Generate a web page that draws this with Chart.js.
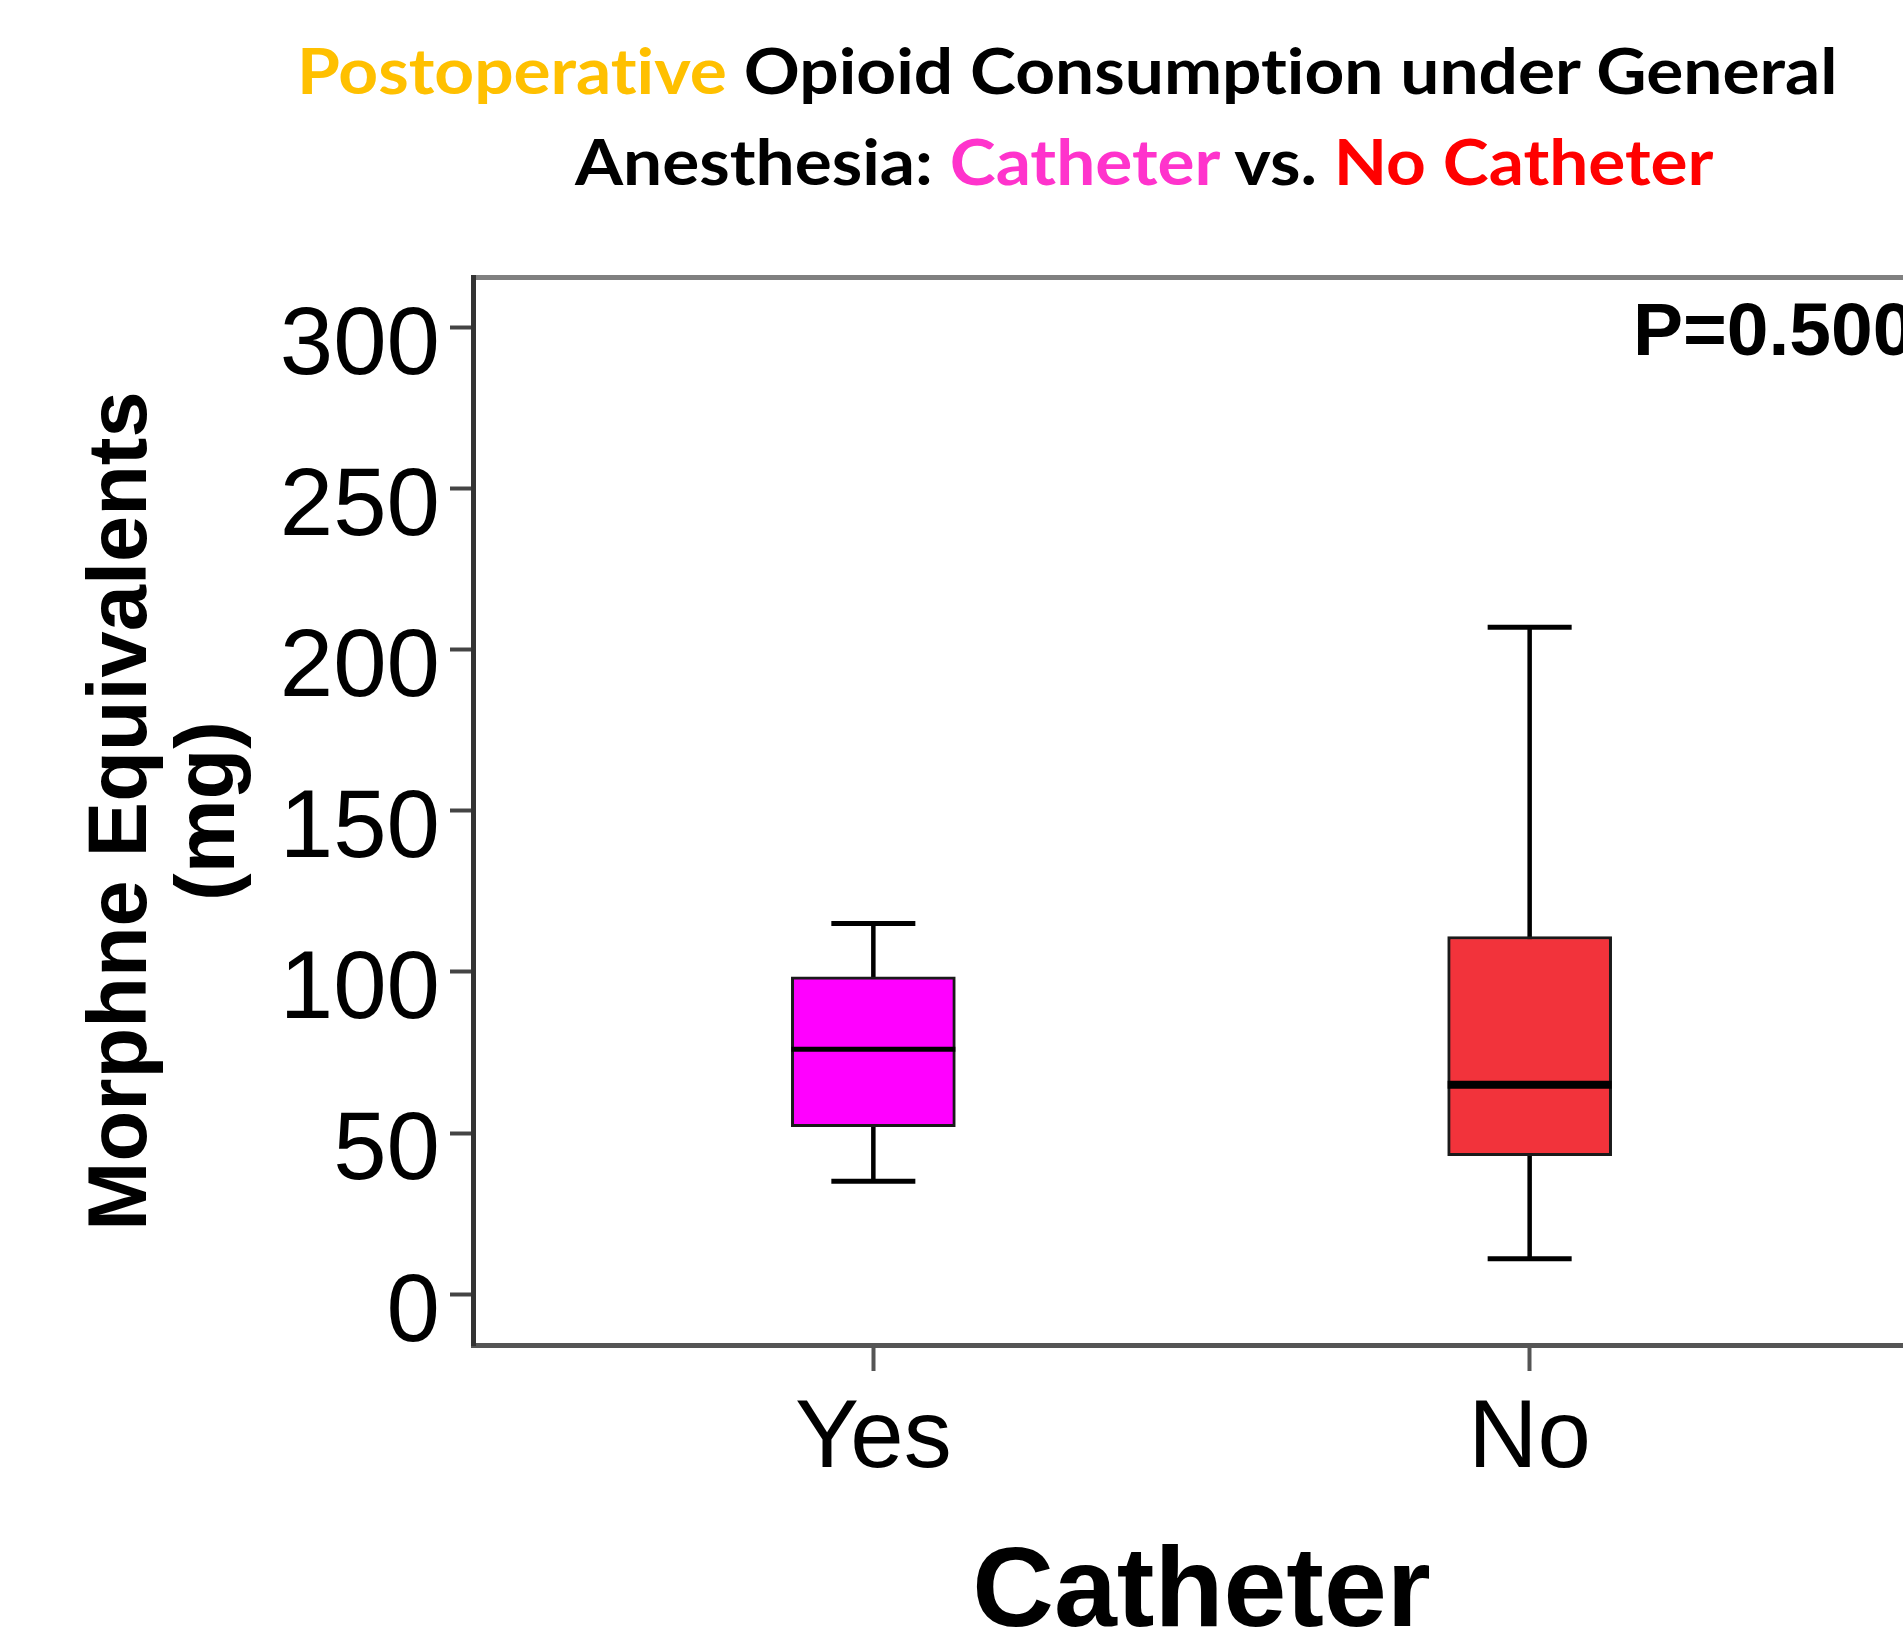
<!DOCTYPE html>
<html>
<head>
<meta charset="utf-8">
<title>Postoperative Opioid Consumption</title>
<script src="https://cdn.jsdelivr.net/npm/chart.js@4.4.1/dist/chart.umd.min.js"></script>
<style>
  html, body { margin: 0; padding: 0; background: #fff; overflow: hidden; }
  #wrap { position: relative; width: 1903px; height: 1633px; overflow: hidden; }
  #chart { position: absolute; left: 0; top: 0; }
  .title-line {
    position: absolute; white-space: nowrap; color: #000;
    font-family: Lato, 'Open Sans', sans-serif; font-weight: bold;
    font-size: 64px; line-height: 64px; transform-origin: 0 0;
    font-variant-ligatures: none;
  }
  #pValue {
    position: absolute; left: 1633px; top: 292px; white-space: nowrap;
    font-family: 'Liberation Sans', Arial, sans-serif; font-weight: bold;
    font-size: 75px; line-height: 75px; color: #000;
  }
</style>
</head>
<body>
<div id="wrap">
  <canvas id="chart" width="1930" height="1633"></canvas>
  <div class="title-line" id="title1" style="left:297px;top:38px"><span style="color:#ffc000">Postoperative</span> Opioid Consumption under General</div>
  <div class="title-line" id="title2" style="left:575px;top:129px">Anesthesia: <span style="color:#ff33cc">Catheter</span> vs. <span style="color:#ff0000">No Catheter</span></div>
  <div id="pValue">P=0.500</div>
</div>
<script>
// box plot values (mg)
const categories = ['Yes', 'No'];
const whiskerLow = [35, 11];
const quartileLow = [52, 43];
const medians = [76, 65];
const quartileHigh = [98.5, 111];
const whiskerHigh = [115, 207];
const boxColors = ['#ff00ff', '#f2333b'];
const medianWidths = [5, 8];
const yTicks = [0, 50, 100, 150, 200, 250, 300];

const family = "'Liberation Sans', Arial, sans-serif";
Chart.defaults.font.family = family;

// categories sit at 1, 2 on a linear x axis
const pos = categories.map((c, i) => i + 1);

const whiskerLines = [];
pos.forEach((x, i) => {
  whiskerLines.push({ x, y: whiskerLow[i] }, { x, y: whiskerHigh[i] }, { x: x + 0.5, y: null });
});
const caps = pos.flatMap((x, i) => [{ x, y: whiskerLow[i] }, { x, y: whiskerHigh[i] }]);
const boxes = pos.map((x, i) => ({ x, y: [quartileLow[i], quartileHigh[i]] }));
const medianPoints = pos.map((x, i) => ({ x, y: medians[i] }));

const ctx = document.getElementById('chart').getContext('2d');

new Chart(ctx, {
  type: 'bar',
  data: {
    datasets: [
      {
        type: 'line',
        data: whiskerLines,
        borderColor: '#000',
        borderWidth: 4.5,
        pointRadius: 0,
        spanGaps: false,
        order: 3,
      },
      {
        type: 'bar',
        data: boxes,
        backgroundColor: boxColors,
        borderColor: '#1a1a1a',
        borderWidth: 3,
        borderSkipped: false,
        barThickness: 164,
        order: 2,
      },
      {
        type: 'line',
        data: caps,
        showLine: false,
        pointStyle: 'line',
        pointRadius: 42,
        pointBorderWidth: 5,
        pointBorderColor: '#000',
        order: 1,
      },
      {
        type: 'line',
        data: medianPoints,
        showLine: false,
        pointStyle: 'line',
        pointRadius: 82,
        pointBorderWidth: medianWidths,
        pointBorderColor: '#000',
        order: 1,
      },
    ],
  },
  options: {
    responsive: false,
    animation: false,
    events: [],
    // big 'line' points would otherwise make chart.js shrink the plot area
    layout: { autoPadding: false, padding: { top: 277, left: 0, right: 0, bottom: 0 } },
    plugins: {
      legend: { display: false },
      tooltip: { enabled: false },
    },
    scales: {
      x: {
        type: 'linear',
        position: 'bottom',
        offset: false,
        min: 0.39,
        max: 2.61,
        afterBuildTicks: (scale) => {
          scale.ticks = pos.map((v) => ({ value: v }));
        },
        afterFit: (scale) => {
          scale.height = 288;
          scale.paddingLeft = 0;
          scale.paddingRight = 0;
        },
        ticks: {
          callback: (v) => categories[v - 1],
          font: { size: 96 },
          color: '#000',
          padding: 12,
          maxRotation: 0,
          autoSkip: false,
        },
        grid: { offset: false, drawOnChartArea: false, tickLength: 26, tickColor: '#555', tickWidth: 4 },
        border: { color: '#555', width: 5 },
        title: {
          display: true,
          text: 'Catheter',
          color: '#000',
          font: { size: 113, weight: 'bold', lineHeight: 0.67 },
          padding: 0,
        },
      },
      xTop: {
        type: 'linear',
        position: 'top',
        offset: false,
        min: 0.39,
        max: 2.61,
        afterFit: (scale) => {
          scale.height = 0;
          scale.paddingLeft = 0;
          scale.paddingRight = 0;
        },
        ticks: { display: false },
        grid: { display: false, drawTicks: false, offset: false },
        border: { display: true, color: '#808080', width: 5 },
      },
      y: {
        min: -15.8,
        max: 315.7,
        afterBuildTicks: (scale) => {
          scale.ticks = yTicks.map((v) => ({ value: v }));
        },
        afterFit: (scale) => {
          scale.width = 473;
        },
        ticks: {
          font: { size: 96 },
          color: '#000',
          padding: 10,
          labelOffset: 20,
        },
        grid: { drawOnChartArea: false, tickLength: 23, tickColor: '#444', tickWidth: 4 },
        border: { color: '#333', width: 5 },
        title: {
          display: true,
          text: ['Morphne Equivalents', '(mg)'],
          color: '#000',
          font: { size: 83, weight: 'bold', lineHeight: 88 / 83 },
          padding: { top: 79, bottom: 0 },
        },
      },
    },
  },
});

// stretch the two title lines to the widths seen in the picture
const fitTitle = () => {
  [['title1', 1540], ['title2', 1138]].forEach(([id, target]) => {
    const el = document.getElementById(id);
    el.style.transform = 'none';
    el.style.transform = `scaleX(${target / el.offsetWidth})`;
  });
};
fitTitle();
document.fonts.ready.then(fitTitle);
</script>
</body>
</html>
